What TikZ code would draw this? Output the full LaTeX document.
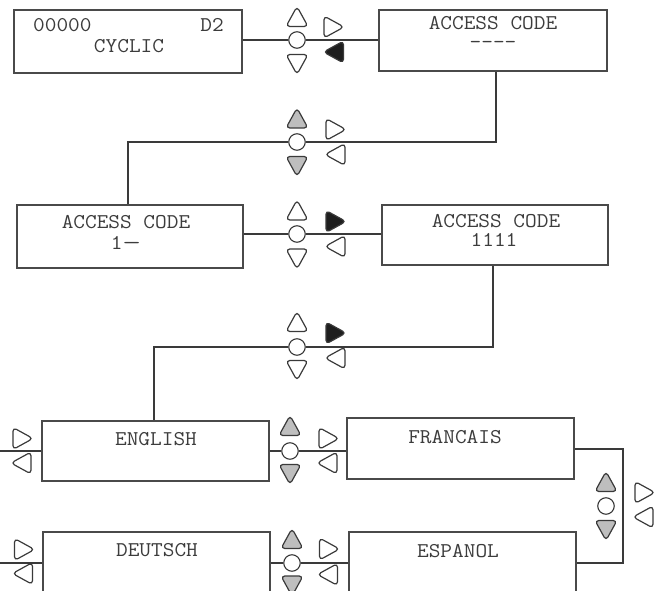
\documentclass[tikz,border=0pt]{standalone}
\usepackage{fontspec}
\newfontfamily\mono[FakeStretch=1.08]{Latin Modern Mono}
\definecolor{ln}{HTML}{3A3A3A}
\definecolor{bx}{HTML}{4A4A4A}
\definecolor{tx}{HTML}{3C3C3C}
\definecolor{gfill}{HTML}{BEBEBE}
\definecolor{bfill}{HTML}{1E1E1E}
\tikzset{
  screen/.style n args={2}{draw=bx, line width=1.1pt, inner sep=0pt, minimum width=#1, minimum height=#2},
  txt/.style={font=\mono\fontsize{21}{23}\selectfont, text=tx, inner sep=0pt},
  knob/.style={circle, draw=ln, line width=1.1pt, fill=white, minimum size=16.5pt, inner sep=0pt},
  wire/.style={draw=ln, line width=1.2pt},
  tri/.style={draw=ln, line width=1.2pt, rounded corners=3.8pt, line join=round},
  uptri/.pic={\path[tri,fill=#1] (-11,9) -- (11,9) -- (0,-11) -- cycle;},
  dntri/.pic={\path[tri,fill=#1] (-11,-9) -- (11,-9) -- (0,11) -- cycle;},
  rttri/.pic={\path[tri,fill=#1] (-9,-11) -- (-9,11) -- (11,0) -- cycle;},
  lftri/.pic={\path[tri,fill=#1] (9,-11) -- (9,11) -- (-11,0) -- cycle;},
}
\begin{document}
\begin{tikzpicture}[x=1pt,y=-1pt]
\clip (0,0) rectangle (654,591);
\fill[white] (0,0) rectangle (654,591);

% screens
\node[screen={228pt}{63pt}] (b1) at (128,41.5) {};
\node[screen={228pt}{61pt}] (b2) at (493,40.5) {};
\node[screen={226pt}{63pt}] (b3) at (130,236.5) {};
\node[screen={226pt}{60pt}] (b4) at (495,235) {};
\node[screen={227pt}{60pt}] (en) at (155.5,451) {};
\node[screen={227pt}{61pt}] (fr) at (460.5,448.5) {};
\node[screen={227pt}{70pt}] (de) at (156.5,567) {};
\node[screen={227pt}{70pt}] (es) at (462.5,567) {};

% texts
\node[txt,anchor=west] (t1a) at (33,25) {00000};
\node[txt,anchor=east] (t1b) at (224,25) {D2};
\node[txt] (t1c) at (129,46) {CYCLIC};
\node[txt] (t2a) at (493,23.5) {ACCESS CODE};
\node[txt] (t2b) at (493,45) {-{}-{}-{}-};
\node[txt] (t3a) at (126,222) {ACCESS CODE};
\node[txt] (t3b) at (126,243) {1\scalebox{1.6}[1]{—}};
\node[txt] (t4a) at (496,221) {ACCESS CODE};
\node[txt] (t4b) at (494,240) {1111};
\node[txt] (ten) at (156,439) {ENGLISH};
\node[txt] (tfr) at (455,437) {FRANCAIS};
\node[txt] (tde) at (157,550) {DEUTSCH};
\node[txt] (tes) at (458,551) {ESPANOL};

% knobs
\node[knob] (cA) at (297,40) {};
\node[knob] (cB) at (297,142) {};
\node[knob] (cC) at (297,234) {};
\node[knob] (cD) at (297,347) {};
\node[knob] (cE) at (290,451) {};
\node[knob] (cF) at (292,563) {};
\node[knob] (cG) at (606,506) {};

\coordinate (eL) at (0,451);
\coordinate (fL) at (0,563);
\coordinate (gT) at (623,449);
\coordinate (gB) at (623,563);

% wires
\draw[wire] (b1.east |- cA) -- (cA.west);
\draw[wire] (cA.east) -- (cA.east -| b2.west);
\draw[wire] ([xshift=3pt]b2.south) |- (cB.east);
\draw[wire] (cB.west) -| ([xshift=-2pt]b3.north);
\draw[wire] (b3.east |- cC) -- (cC.west);
\draw[wire] (cC.east) -- (cC.east -| b4.west);
\draw[wire] ([xshift=-2pt]b4.south) |- (cD.east);
\draw[wire] (cD.west) -| ([xshift=-1.5pt]en.north);
\draw[wire] (en.east |- cE) -- (cE.west);
\draw[wire] (cE.east) -- (cE.east -| fr.west);
\draw[wire] (en.west |- eL) -- (eL);
\draw[wire] (de.east |- cF) -- (cF.west);
\draw[wire] (cF.east) -- (cF.east -| es.west);
\draw[wire] (de.west |- fL) -- (fL);
\draw[wire] (fr.east |- gT) -- (gT) -- (gB) -- (gB -| es.east);

% cluster A
\pic at (297,17.5) {uptri=white};
\pic at (297,63.5) {dntri=white};
\pic at (333,27) {rttri=white};
\pic at (334.5,52) {lftri=bfill};
% cluster B
\pic at (297,119) {uptri=gfill};
\pic at (297,165.5) {dntri=gfill};
\pic at (335,129.5) {rttri=white};
\pic at (336,154.5) {lftri=white};
% cluster C
\pic at (297,211) {uptri=white};
\pic at (297,258) {dntri=white};
\pic at (335,221.5) {rttri=bfill};
\pic at (336,246.5) {lftri=white};
% cluster D
\pic at (297,322.5) {uptri=white};
\pic at (297,369.5) {dntri=white};
\pic at (335,333) {rttri=bfill};
\pic at (336,358) {lftri=white};
% cluster E
\pic at (290,426.5) {uptri=gfill};
\pic at (290,473.5) {dntri=gfill};
\pic at (328,438.5) {rttri=white};
\pic at (328,463) {lftri=white};
\pic at (22,438.5) {rttri=white};
\pic at (22,463) {lftri=white};
% cluster F
\pic at (292,539.5) {uptri=gfill};
\pic at (292,585) {dntri=gfill};
\pic at (328.5,549) {rttri=white};
\pic at (328.5,574.5) {lftri=white};
\pic at (23.5,549.5) {rttri=white};
\pic at (23.5,573.5) {lftri=white};
% cluster G
\pic at (606,482.5) {uptri=gfill};
\pic at (606,529.5) {dntri=gfill};
\pic at (644,492.5) {rttri=white};
\pic at (644,517) {lftri=white};
\end{tikzpicture}
\end{document}
